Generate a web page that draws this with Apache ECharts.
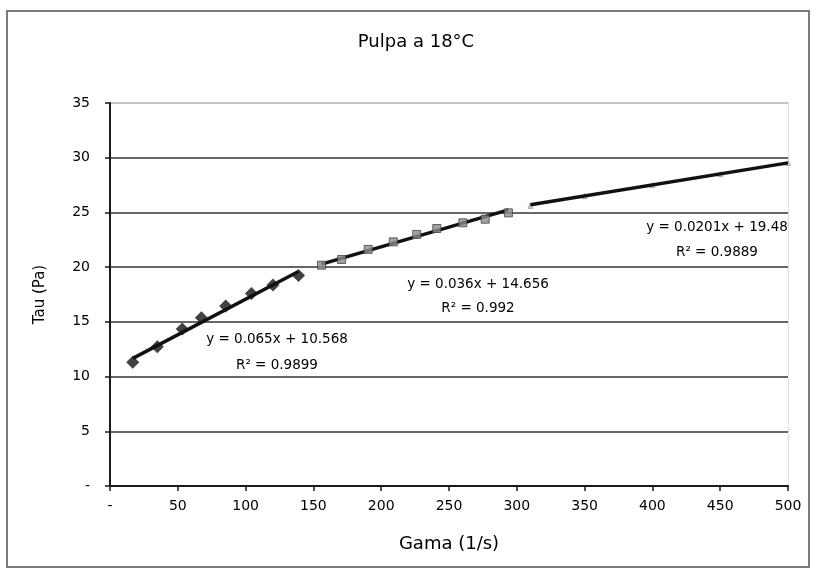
<!DOCTYPE html>
<html>
<head>
<meta charset="utf-8">
<script src="https://cdn.jsdelivr.net/npm/echarts@6/dist/echarts.min.js"></script>
<style>
  html, body { margin: 0; padding: 0; background: #fff; }
  #chart { width: 817px; height: 573px; }
</style>
</head>
<body>
<div id="chart"></div>
<script>
// Shear rate (1/s) and shear stress (Pa), three measuring ranges
const gama1 = [16.8, 34.9, 53.3, 67.4, 85.3, 104.3, 120.2, 139.0];
const tau1  = [11.30, 12.72, 14.34, 15.37, 16.46, 17.60, 18.36, 19.24];

const gama2 = [156.0, 170.8, 190.4, 208.9, 226.2, 241.0, 260.2, 276.7, 293.8];
const tau2  = [20.18, 20.70, 21.62, 22.31, 22.99, 23.53, 24.05, 24.38, 24.96];

const gama3 = [310, 350, 400, 450, 500];
const tau3  = [25.6, 26.5, 27.5, 28.5, 29.5];

// Linear fits per range: slope, intercept, R²
const slopes     = [0.065, 0.036, 0.0201];
const intercepts = [10.568, 14.656, 19.48];
const r2         = ['0.9899', '0.992', '0.9889'];

const xTicks = [0, 50, 100, 150, 200, 250, 300, 350, 400, 450, 500];
const yTicks = [0, 5, 10, 15, 20, 25, 30, 35];

const FONT = '"DejaVu Sans", sans-serif';

function fitLine(i, xs) {
  const x0 = Math.min(...xs), x1 = Math.max(...xs);
  return [[x0, slopes[i] * x0 + intercepts[i]], [x1, slopes[i] * x1 + intercepts[i]]];
}
function eqText(i) {
  return 'y = ' + slopes[i] + 'x + ' + intercepts[i];
}

const chart = echarts.init(document.getElementById('chart'), null, { renderer: 'canvas' });

const gridColorsY = yTicks.map((v, i) => i === 0 ? 'transparent' : (i === yTicks.length - 1 ? '#c4c4c4' : '#666'));
const gridColorsX = xTicks.map((v, i) => i === xTicks.length - 1 ? '#c4c4c4' : 'transparent');

// Equation label placement (pixel centres)
const eqPos = [[277, 339, 365], [478, 284, 308], [717, 227, 252]];
const eqGraphics = [];
eqPos.forEach((p, i) => {
  eqGraphics.push({
    type: 'text', x: p[0], y: p[1], z: 50,
    style: { text: eqText(i), font: '13.5px ' + FONT, fill: '#000', textAlign: 'center', textVerticalAlign: 'middle' }
  });
  eqGraphics.push({
    type: 'text', x: p[0], y: p[2], z: 50,
    style: { text: 'R² = ' + r2[i], font: '13.5px ' + FONT, fill: '#000', textAlign: 'center', textVerticalAlign: 'middle' }
  });
});

const option = {
  animation: false,
  backgroundColor: '#fff',
  grid: { left: 110, right: 29, top: 103, bottom: 87, containLabel: false },
  xAxis: {
    type: 'value', min: 0, max: 500, interval: 50,
    name: 'Gama (1/s)', nameLocation: 'middle', nameGap: 49,
    nameTextStyle: { fontFamily: FONT, fontSize: 18, color: '#000' },
    axisLine: { show: true, lineStyle: { color: '#1a1a1a', width: 2 } },
    axisTick: { show: true, length: 5, lineStyle: { color: '#1a1a1a', width: 1.5 } },
    axisLabel: {
      fontFamily: FONT, fontSize: 14, color: '#000', margin: 13,
      formatter: v => v === 0 ? '-' : String(v)
    },
    splitLine: { show: true, lineStyle: { color: gridColorsX, type: 'dotted', width: 1 } }
  },
  yAxis: {
    type: 'value', min: 0, max: 35, interval: 5,
    name: 'Tau (Pa)', nameLocation: 'middle', nameGap: 62, nameRotate: 90,
    nameTextStyle: { fontFamily: FONT, fontSize: 15, color: '#000' },
    axisLine: { show: true, lineStyle: { color: '#1a1a1a', width: 2 } },
    axisTick: { show: true, length: 5, lineStyle: { color: '#1a1a1a', width: 1.5 } },
    axisLabel: {
      fontFamily: FONT, fontSize: 14, color: '#000', margin: 20,
      formatter: v => v === 0 ? '-' : String(v)
    },
    splitLine: { show: true, lineStyle: { color: gridColorsY, width: 2 } }
  },
  graphic: [
    {
      type: 'rect', z: 0, silent: true,
      shape: { x: 7, y: 11, width: 802, height: 556 },
      style: { fill: 'none', stroke: '#7a7a7a', lineWidth: 2 }
    },
    {
      type: 'text', x: 416, y: 42, z: 50,
      style: { text: 'Pulpa a 18°C', font: '18px ' + FONT, fill: '#000', textAlign: 'center', textVerticalAlign: 'middle' }
    }
  ].concat(eqGraphics),
  series: [
    {
      name: 'range3', type: 'scatter', z: 2,
      symbol: 'triangle', symbolSize: 5,
      itemStyle: { color: '#d0d0d0', borderColor: '#999', borderWidth: 1 },
      data: gama3.map((x, i) => [x, tau3[i]])
    },
    {
      name: 'fit1', type: 'line', z: 3, symbol: 'none',
      lineStyle: { color: '#111', width: 3.5 },
      data: fitLine(0, gama1)
    },
    {
      name: 'fit2', type: 'line', z: 3, symbol: 'none',
      lineStyle: { color: '#111', width: 3.5 },
      data: fitLine(1, gama2)
    },
    {
      name: 'fit3', type: 'line', z: 3, symbol: 'none',
      lineStyle: { color: '#111', width: 3.5 },
      data: fitLine(2, gama3)
    },
    {
      name: 'range1', type: 'scatter', z: 4,
      symbol: 'diamond', symbolSize: 13,
      itemStyle: { color: '#111' },
      data: gama1.map((x, i) => [x, tau1[i]])
    },
    {
      name: 'range2', type: 'scatter', z: 4,
      symbol: 'rect', symbolSize: 8,
      itemStyle: { color: '#8c8c8c', borderColor: '#444', borderWidth: 1 },
      data: gama2.map((x, i) => [x, tau2[i]])
    }
  ]
};

chart.setOption(option);
</script>
</body>
</html>
